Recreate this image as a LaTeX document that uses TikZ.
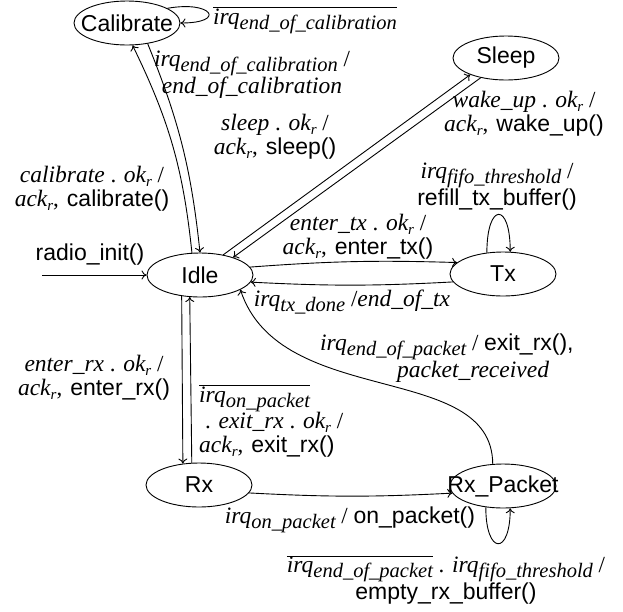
\documentclass[tikz,border=0pt]{standalone}
\usepackage{fontspec}
\setmainfont{Liberation Serif}
\newfontfamily\sfx{Liberation Sans}
\usetikzlibrary{shapes.geometric,arrows.meta}
\newcommand{\idf}[1]{{\fontsize{23.5}{24}\selectfont\itshape #1}}
\newcommand{\fn}[1]{{\sfx #1}}
\newcommand{\sbx}[1]{\raisebox{-5pt}{\fontsize{20.5}{20}\selectfont\itshape #1}}
\newcommand{\rsb}{\raisebox{-3.5pt}{\fontsize{15}{15}\selectfont\itshape r}}
\newcommand{\ovl}[1]{$\overline{\hbox{#1}}$}
\newcommand{\irq}[1]{\idf{irq}\sbx{#1}}
\newcommand{\cm}{,\hspace{8pt}}
\begin{document}
\begin{tikzpicture}[x=1pt,y=1pt,
  st/.style={ellipse, draw, line width=0.9pt, minimum width=106pt, minimum height=44pt, inner sep=0pt, font=\sfx\fontsize{23}{24}\selectfont},
  lbl/.style={font=\fontsize{23}{24}\selectfont, inner sep=0pt, align=center},
  lbll/.style={font=\fontsize{23}{24}\selectfont, inner sep=0pt, align=left},
  ed/.style={-{To[length=5pt,width=9pt]}, line width=0.9pt}]
\useasboundingbox[fill=white] (0,0) rectangle (623,-611);

% states
\node[st] (Cal) at (127,-23) {\makebox[0pt]{Calibrate}};
\node[st] (Sleep) at (506,-58) {\makebox[0pt]{Sleep}};
\node[st] (Idle) at (200,-275) {\makebox[0pt]{Idle}};
\node[st] (Tx) at (503,-274) {\makebox[0pt]{Tx}};
\node[st] (Rx) at (199,-485) {\makebox[0pt]{Rx}};
\node[st] (RxP) at (503,-486) {\makebox[0pt]{Rx\_Packet}};
\coordinate (start) at (42,-275);

% transitions
\draw[ed] (start) -- (Idle.west);
\draw[ed] (Cal.20) to[out=10, in=0, looseness=6] (Cal.east);
\draw[ed] (Idle.110) to[bend right=10] (Cal.-76);
\draw[ed] (Cal.-45) to[bend left=8] (Idle.90);
\draw[ed] (Idle.41) -- (Sleep.-155);
\draw[ed] (Sleep.-142) -- (Idle.28);
\draw[ed] (Idle.9) to[bend left=3] (Tx.166);
\draw[ed] (Tx.-171) to[bend left=3] (Idle.-8);
\draw[ed] (Tx.127) to[out=90, in=90, looseness=5.5] (Tx.72);
\draw[ed] (Idle.-131) -- (Rx.127);
\draw[ed] (Rx.108) -- (Idle.-115);
\draw[ed] (Rx.-9) to[bend right=3] (RxP.188);
\draw[ed] (RxP.-129) to[out=-90, in=-90, looseness=5] (RxP.-72);
\draw[ed] (RxP.115) .. controls (492,-360) and (280,-410) .. (Idle.-20);

% labels
\node[lbl] (lradio) at (90,-255) {\fn{radio\_init()}};
\node[lbl] (lcs) at (305,-20) {\ovl{\irq{end\_of\_calibration}}};
\node[lbl] (lci) at (252,-75) {\irq{end\_of\_calibration} /\\ \idf{end\_of\_calibration}};
\node[lbl] (lic) at (92,-189) {\idf{calibrate} . \idf{ok}\rsb{} /\\ \idf{ack}\rsb\cm\fn{calibrate()}};
\node[lbl] (lis) at (275,-137) {\idf{sleep} . \idf{ok}\rsb{} /\\ \idf{ack}\rsb\cm\fn{sleep()}};
\node[lbl] (lsi) at (524,-114) {\idf{wake\_up} . \idf{ok}\rsb{} /\\ \idf{ack}\rsb\cm\fn{wake\_up()}};
\node[lbl] (lts) at (497,-187) {\irq{fifo\_threshold} /\\ \fn{refill\_tx\_buffer()}};
\node[lbl] (lit) at (358,-237) {\idf{enter\_tx} . \idf{ok}\rsb{} /\\ \idf{ack}\rsb\cm\fn{enter\_tx()}};
\node[lbl] (lti) at (352,-302) {\irq{tx\_done} /\idf{end\_of\_tx}};
\node[lbll, anchor=west] (lri) at (320,-358) {\irq{end\_of\_packet} / \fn{exit\_rx(),}\\\hspace*{77pt}\idf{packet\_received}};
\node[lbl] (lir) at (94,-378) {\idf{enter\_rx} . \idf{ok}\rsb{} /\\ \idf{ack}\rsb\cm\fn{enter\_rx()}};
\node[lbll, anchor=west] (lrxi) at (199,-421) {\ovl{\irq{on\_packet}}\\\hspace*{6pt}. \idf{exit\_rx} . \idf{ok}\rsb{} /\\ \idf{ack}\rsb\cm\fn{exit\_rx()}};
\node[lbl] (lrr) at (350,-520) {\irq{on\_packet} / \fn{on\_packet()}};
\node[lbl] (lrs) at (446,-580) {\ovl{\irq{end\_of\_packet}} . \irq{fifo\_threshold} /\\ \fn{empty\_rx\_buffer()}};
\end{tikzpicture}
\end{document}
